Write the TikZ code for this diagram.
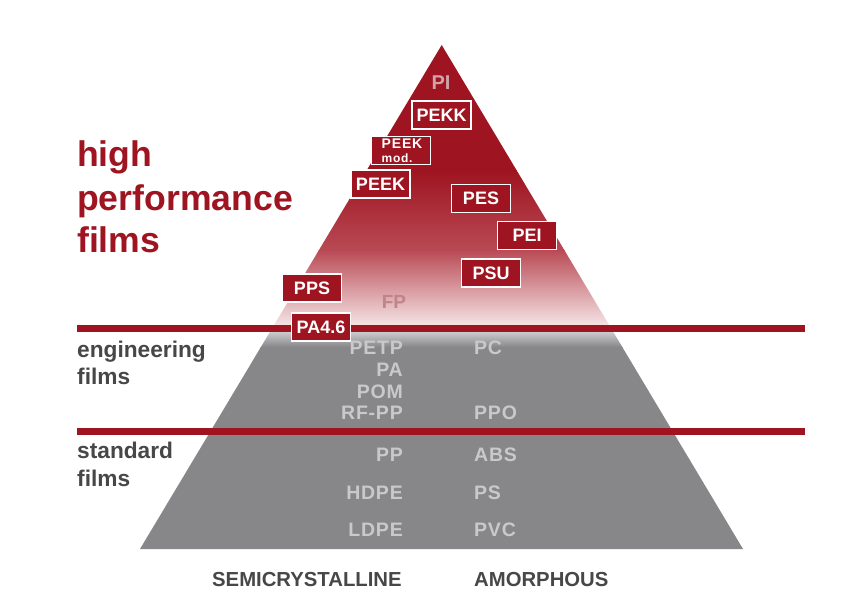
\documentclass[tikz,border=0pt]{standalone}
\usepackage{fontspec}
\setmainfont{Liberation Sans}
\newfontfamily\spaced[LetterSpace=4]{Liberation Sans}
\newfontfamily\modfont[LetterSpace=6]{Liberation Sans}
\definecolor{dred}{HTML}{9E1420}
\definecolor{mred}{HTML}{B94A55}
\definecolor{pwhite}{HTML}{F8EEEE}
\definecolor{gfill}{HTML}{87878A}
\definecolor{gtop}{HTML}{CFCFD1}
\definecolor{gtext}{HTML}{C9C9CB}
\definecolor{dgray}{HTML}{474747}
\definecolor{pitext}{HTML}{D0A3A8}
\definecolor{fptext}{HTML}{C08489}
\tikzset{
  redbox/.style={fill=dred, draw=white, line width=1.5pt, text=white, inner sep=0pt,
    minimum width=59pt, minimum height=28pt, font=\fontsize{18}{18}\selectfont\bfseries},
  greytxt/.style={text=gtext, inner sep=0pt, font=\fontsize{19.5}{20}\selectfont\bfseries\spaced},
  sidetxt/.style={text=dgray, inner sep=0pt, anchor=base west, font=\fontsize{22.7}{24}\selectfont\bfseries},
  hptxt/.style={text=dred, inner sep=0pt, anchor=base west, font=\fontsize{35.6}{40}\selectfont\bfseries},
  axtxt/.style={text=dgray, inner sep=0pt, anchor=base west, font=\fontsize{20.3}{21}\selectfont\bfseries},
  band/.style={draw=dred, line width=7pt}
}
\begin{document}
\begin{tikzpicture}[x=1pt,y=-1pt]
\useasboundingbox[fill=white] (0,0) rectangle (861,610);
\coordinate (apex) at (441.7,45);
\coordinate (bl) at (140,549);
\coordinate (br) at (743,549);
\begin{scope}
  \clip (apex) -- (br) -- (bl) -- cycle;
  \fill[dred] (100,40) rectangle (800,170.5);
  \shade[top color=dred, bottom color=mred] (100,170) rectangle (800,250.5);
  \shade[top color=mred, bottom color=pwhite] (100,250) rectangle (800,330);
  \shade[top color=gtop, bottom color=gfill] (100,331) rectangle (800,347);
  \fill[gfill] (100,346.5) rectangle (800,560);
\end{scope}
% bands
\coordinate (l1a) at (77,328);
\coordinate (l1b) at (805,328);
\coordinate (l2a) at (77,431);
\coordinate (l2b) at (805,431);
\draw[band] (l1a) -- (l1b);
\draw[band] (l2a) -- (l2b);
% top labels
\node[text=pitext, inner sep=0pt, font=\fontsize{20}{20}\selectfont\bfseries] (pi) at (441,83) {PI};
\node[text=fptext, inner sep=0pt, font=\fontsize{19}{20}\selectfont\bfseries] (fp) at (394,302) {FP};
% boxes
\node[redbox] (pekk) at (441.7,115) {PEKK};
\node[redbox] (peekmod) at (401,150.5) {};
\node[text=white, inner sep=0pt, anchor=base west, font=\fontsize{14}{14}\selectfont\bfseries\modfont] (peekmodA) at (381.5,148) {PEEK};
\node[text=white, inner sep=0pt, anchor=base west, font=\fontsize{12}{12}\selectfont\bfseries\modfont] (peekmodB) at (381.5,162) {mod.};
\node[redbox] (peek) at (380.5,184) {PEEK};
\node[redbox] (pes) at (481,198.5) {PES};
\node[redbox] (pei) at (527,235.5) {PEI};
\node[redbox] (psu) at (491,273) {PSU};
\node[redbox] (pps) at (312,288) {PPS};
\node[redbox] (pa46) at (321,327) {PA4.6};
% semicrystalline column
\node[greytxt, anchor=east] (petp) at (403,348) {PETP};
\node[greytxt, anchor=east] (pa) at (403,370) {PA};
\node[greytxt, anchor=east] (pom) at (403,392) {POM};
\node[greytxt, anchor=east] (rfpp) at (403,413) {RF-PP};
\node[greytxt, anchor=east] (pp) at (403,455) {PP};
\node[greytxt, anchor=east] (hdpe) at (403,493) {HDPE};
\node[greytxt, anchor=east] (ldpe) at (403,530) {LDPE};
% amorphous column
\node[greytxt, anchor=west] (pc) at (474,348) {PC};
\node[greytxt, anchor=west] (ppo) at (474,413) {PPO};
\node[greytxt, anchor=west] (abs) at (474,455) {ABS};
\node[greytxt, anchor=west] (ps) at (474,493) {PS};
\node[greytxt, anchor=west] (pvc) at (474,530) {PVC};
% side labels
\node[hptxt] (hp1) at (77,166.5) {high};
\node[hptxt] (hp2) at (77,210) {performance};
\node[hptxt] (hp3) at (77,252) {films};
\node[sidetxt] (en1) at (77,357) {engineering};
\node[sidetxt] (en2) at (77,384) {films};
\node[sidetxt] (st1) at (77,458) {standard};
\node[sidetxt] (st2) at (77,486) {films};
% axis labels
\node[axtxt] (semi) at (212,586) {SEMICRYSTALLINE};
\node[axtxt] (amor) at (474,586) {AMORPHOUS};
\end{tikzpicture}
\end{document}
